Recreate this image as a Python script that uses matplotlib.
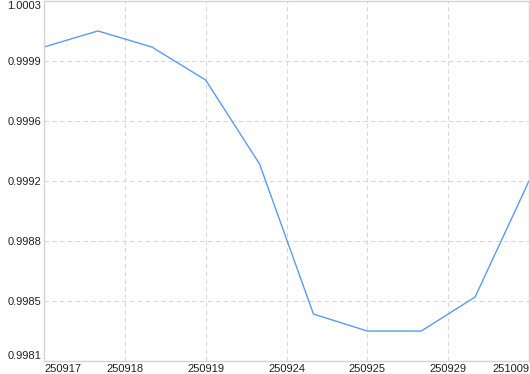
import numpy as np
import matplotlib
matplotlib.use('Agg')
import matplotlib.pyplot as plt

# values
values = [1.000019, 1.000117, 1.000019, 0.999817, 0.999304,
          0.998387, 0.998283, 0.998283, 0.998491, 0.999200]
xtick_pos = [0, 1.5, 3, 4.5, 6, 7.5, 9]
xtick_labels = ['250917', '250918', '250919', '250924', '250925', '250929', '251009']
ymin, ymax = 0.9981, 1.0003

plt.rcParams['font.family'] = ['Liberation Sans', 'DejaVu Sans']

fig = plt.figure(figsize=(5.3, 3.74), dpi=100)
ax = fig.add_axes([44/530, 13/374, 485/530, 360/374])

x = np.arange(len(values))
ax.plot(x, values, color='#5b9bef', lw=1.0)

ax.set_xlim(0, len(values) - 1)
ax.set_ylim(ymin, ymax)

yticks = np.linspace(ymin, ymax, 7)
ax.set_yticks(yticks)
ax.set_yticklabels(['%.4f' % v for v in yticks], fontsize=8)
ax.set_xticks(xtick_pos)
ax.set_xticklabels(xtick_labels, fontsize=8)

ax.tick_params(length=0, pad=2, colors='#222222')
ax.tick_params(axis='x', pad=2)
xl = ax.get_xticklabels()
xl[0].set_ha('left')
xl[-1].set_ha('right')
yl = ax.get_yticklabels()
yl[0].set_va('bottom')
yl[-1].set_va('top')

ax.grid(True, color='#d8d8d8', linestyle=(0, (4, 3)), linewidth=0.8)
ax.set_axisbelow(True)
for s in ax.spines.values():
    s.set_color('#d4d4d4')
    s.set_linewidth(1.0)

fig.savefig('out.png', dpi=100)
